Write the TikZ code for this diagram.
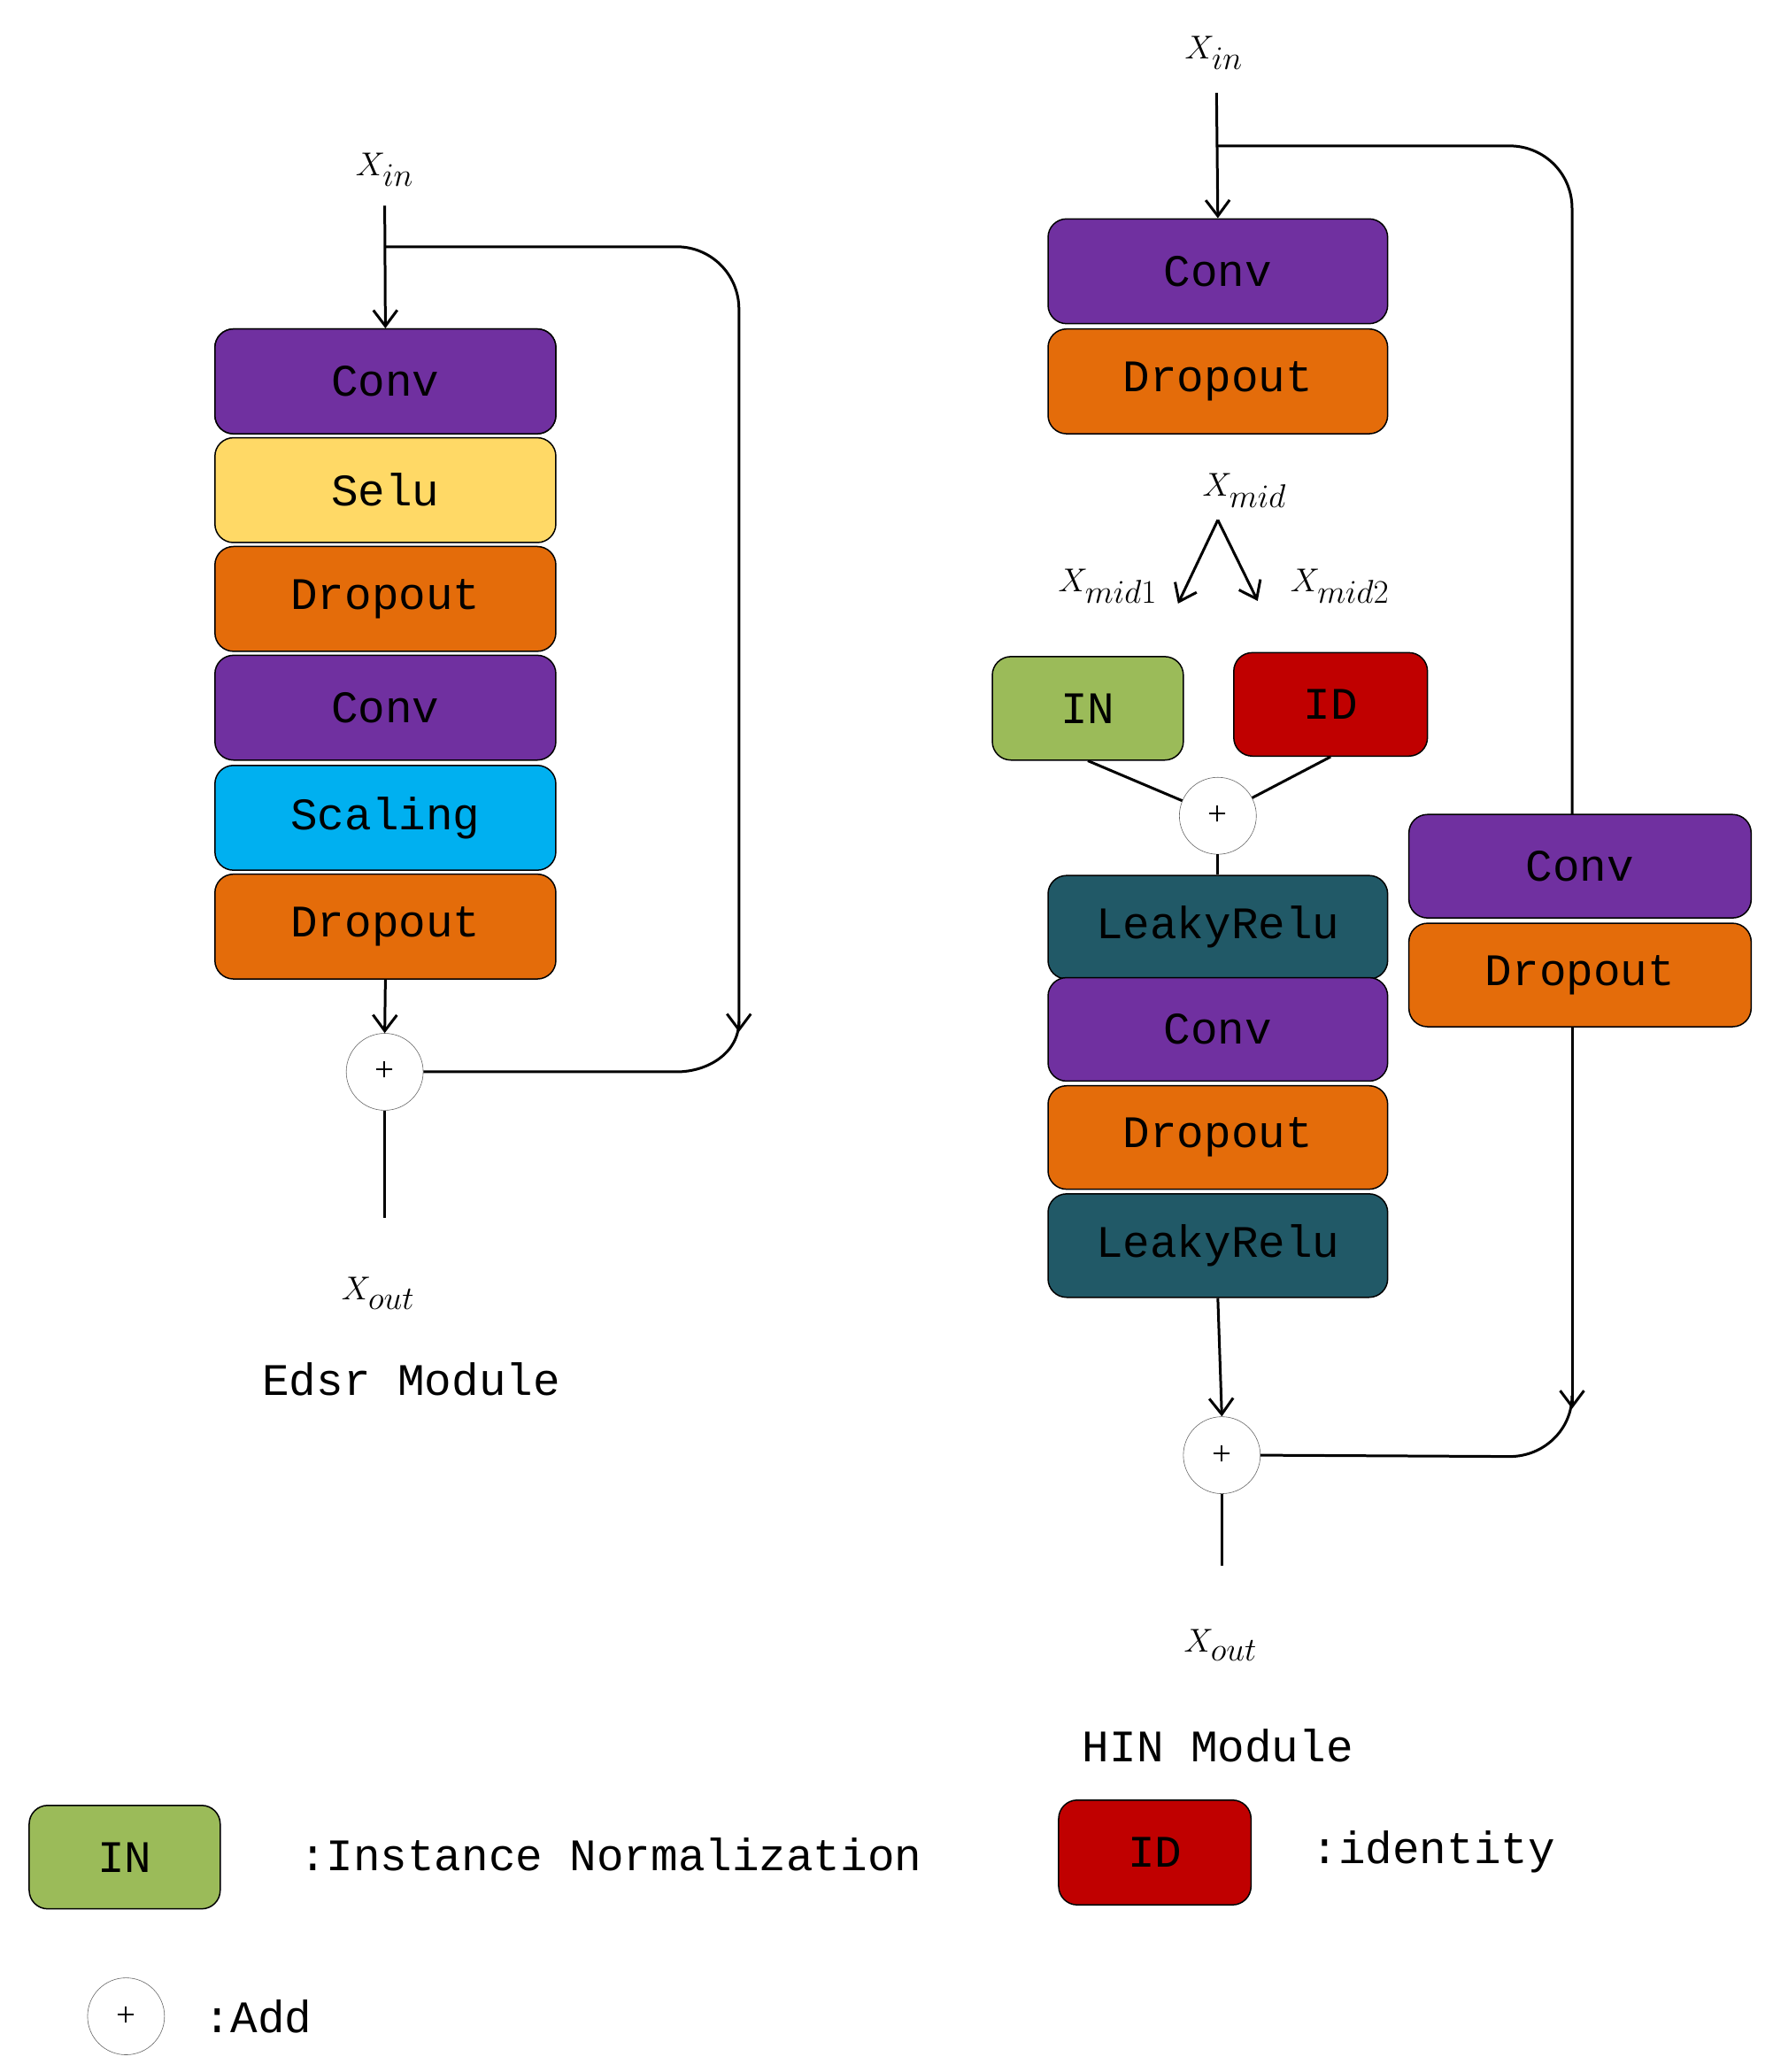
\documentclass[tikz,border=0pt]{standalone}
\usepackage{fontspec}
\setmainfont{Liberation Serif}
\newfontfamily\boxfont{Liberation Mono}
\usetikzlibrary{arrows.meta}
\definecolor{cpurple}{HTML}{7030A0}
\definecolor{cyellow}{HTML}{FFD966}
\definecolor{corange}{HTML}{E46C0A}
\definecolor{ccyan}{HTML}{00B0F0}
\definecolor{cteal}{HTML}{215967}
\definecolor{cgreen}{HTML}{9BBB59}
\definecolor{cred}{HTML}{C00000}
\begin{document}
\begin{tikzpicture}[x=1pt,y=-1pt,
 blk/.style={draw=black,line width=1pt,rounded corners=14pt,inner sep=0pt,font=\boxfont\fontsize{34}{36}\selectfont},
 add/.style={draw=black!60,circle,minimum size=58pt,inner sep=0pt,font=\fontsize{26}{26}\selectfont,fill=white},
 ln/.style={line width=2pt},
 arr/.style={line width=2pt,-{Straight Barb[length=12pt,width=18pt]}},
 lab/.style={font=\fontsize{44}{44}\selectfont\itshape},
 title/.style={font=\boxfont\fontsize{34}{36}\selectfont}]
\useasboundingbox (0,0) rectangle (1336,1562);
\newcommand{\bx}[6]{\node[blk,fill=#2,text=#3,minimum width=#5 pt,minimum height=#6 pt] (#1) at (#4) {#3};}
% Left module
\node[lab] (lxin) at (290,128) {$X_{in}$};
\path[blk,fill=cpurple] (162,248) rectangle (419,327);
\node[blk,draw=none,fill=cpurple,text=black,minimum width=257pt,minimum height=79pt,rounded corners=14pt,draw=black] (l1) at (290.5,287.5) {Conv};
\node[blk,fill=cyellow,minimum width=257pt,minimum height=79pt] (l2) at (290.5,369.5) {Selu};
\node[blk,fill=corange,minimum width=257pt,minimum height=79pt] (l3) at (290.5,451.5) {Dropout};
\node[blk,fill=cpurple,minimum width=257pt,minimum height=79pt] (l4) at (290.5,533.5) {Conv};
\node[blk,fill=ccyan,minimum width=257pt,minimum height=79pt] (l5) at (290.5,616.5) {Scaling};
\node[blk,fill=corange,minimum width=257pt,minimum height=79pt] (l6) at (290.5,698.5) {Dropout};
\node[add] (ladd) at (290,808) {+};
\coordinate (lout) at (290,918);
\coordinate (lsp) at (290,186);
\draw[arr] (290,155) -- (l1.north);
\draw[arr] (lsp) -- (510,186) to[out=0,in=90] (557,233) -- (557,778);
\draw[ln] (557,770) to[out=-90,in=0] (510,808) -- (ladd.east);
\draw[arr] (l6.south) -- (ladd.north);
\draw[ln] (ladd.south) -- (lout);
\node[lab] (lxout) at (285,975) {$X_{out}$};
\node[title] (ltitle) at (310,1040) {Edsr Module};
% Right module
\node[lab] (rxin) at (915,40) {$X_{in}$};
\node[blk,fill=cpurple,minimum width=256pt,minimum height=79pt] (r1) at (918,204.5) {Conv};
\node[blk,fill=corange,minimum width=256pt,minimum height=79pt] (r2) at (918,287.5) {Dropout};
\coordinate (rsp) at (917,110);
\draw[arr] (917,70) -- (r1.north);
\draw[ln] (rsp) -- (1138,110) to[out=0,in=90] (1185,157) -- (1185,614);
\node[blk,fill=cpurple,minimum width=258pt,minimum height=78pt] (s1) at (1191,653) {Conv};
\node[blk,fill=corange,minimum width=258pt,minimum height=78pt] (s2) at (1191,735) {Dropout};
\node[lab] (rxmid) at (938,370) {$X_{mid}$};
\coordinate (mtop) at (918,392);
\draw[arr] (mtop) -- (888,455);
\draw[arr] (mtop) -- (948,453);
\node[lab] (rxm1) at (835,442) {$X_{mid1}$};
\node[lab] (rxm2) at (1010,442) {$X_{mid2}$};
\node[blk,fill=cgreen,minimum width=144pt,minimum height=78pt] (rin) at (820,534) {IN};
\node[blk,fill=cred,minimum width=146pt,minimum height=78pt] (rid) at (1003,531) {ID};
\node[add] (radd1) at (918,615) {+};
\draw[ln] (rin.south) -- (radd1);
\draw[ln] (rid.south) -- (radd1);
\node[blk,fill=cteal,minimum width=256pt,minimum height=78pt] (r3) at (918,699) {LeakyRelu};
\node[blk,fill=cpurple,minimum width=256pt,minimum height=78pt] (r4) at (918,776) {Conv};
\node[blk,fill=corange,minimum width=256pt,minimum height=78pt] (r5) at (918,857.5) {Dropout};
\node[blk,fill=cteal,minimum width=256pt,minimum height=78pt] (r6) at (918,939) {LeakyRelu};
\draw[ln] (radd1.south) -- (r3.north);
\node[add] (radd2) at (921,1097) {+};
\draw[arr] (r6.south) -- (radd2.north);
\draw[arr] (s2.south -| 1185,0) -- (1185,1062);
\draw[ln] (1185,1052) to[out=-90,in=0] (1138,1098) -- (radd2.east);
\coordinate (rout) at (921,1180);
\draw[ln] (radd2.south) -- (rout);
\node[lab] (rxout) at (920,1240) {$X_{out}$};
\node[title] (rtitle) at (918,1316) {HIN Module};
% Legend
\node[blk,fill=cgreen,minimum width=144pt,minimum height=78pt] (gin) at (94,1400) {IN};
\node[title,anchor=west] (tin) at (222,1398) {:Instance Normalization};
\node[blk,fill=cred,minimum width=145pt,minimum height=79pt] (gid) at (870.5,1396.5) {ID};
\node[title,anchor=west] (tid) at (985,1396) {:identity};
\node[add] (gadd) at (95,1520) {+};
\node[title,anchor=west] (tadd) at (150,1520) {:Add};
\end{tikzpicture}
\end{document}
